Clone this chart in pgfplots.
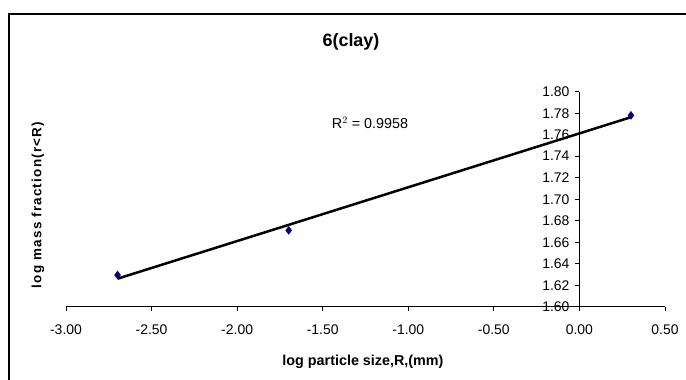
\documentclass[border=0pt]{standalone}
\usepackage{fontspec}
\setmainfont{Liberation Sans}
\newfontfamily\ylabfont[LetterSpace=9]{Liberation Sans}
\usepackage{pgfplots}
\usepackage{pgfplotstable}
\pgfplotsset{compat=1.18}
\definecolor{navy}{RGB}{0,0,128}
\pgfplotstableread{
x y
-2.699 1.6295
-1.699 1.671
0.301 1.778
}\datatable
\begin{document}
\begin{tikzpicture}
\useasboundingbox (0,0) rectangle (686bp,380bp);
\fill[white] (0,0) rectangle (686bp,380bp);
\draw[line width=1.5bp] (9bp,0) -- (9bp,366bp) -- (686bp,366bp);
\begin{axis}[
  at={(66bp,73.3bp)}, anchor=south west,
  scale only axis, width=599bp, height=215bp,
  xmin=-3, xmax=0.5, ymin=1.6, ymax=1.8,
  axis x line=bottom, axis y line=middle,
  axis line style={-, line width=0.8bp, black},
  hide obscured x ticks=false, hide obscured y ticks=false,
  xtick={-3,-2.5,-2,-1.5,-1,-0.5,0,0.5},
  ytick={1.6,1.62,1.64,1.66,1.68,1.7,1.72,1.74,1.76,1.78,1.8},
  tick align=outside, major tick length=4.5bp,
  tick style={line width=0.8bp, black},
  xticklabel pos=bottom, yticklabel pos=left,
  /pgf/number format/.cd, fixed, fixed zerofill, precision=2, assume math mode=true,
  /pgfplots/.cd,
  ticklabel style={font=\fontsize{14}{16}\selectfont},
  x tick label style={anchor=north, yshift=-10bp},
  y tick label style={anchor=east, xshift=-2bp},
  clip=false,
]
\addplot[black, line width=2.5bp] table[x=x, y={create col/linear regression={y=y}}] {\datatable};
\addplot[only marks, mark=diamond*, mark size=4bp, color=navy, mark options={fill=navy}] table[x=x, y=y] {\datatable};
\end{axis}
\node[anchor=base, font=\bfseries\fontsize{18}{20}\selectfont] at (351bp,333.3bp) {6(clay)};
\node[anchor=base, font=\bfseries\fontsize{14.4}{16}\selectfont] at (363bp,15bp) {log particle size,R,(mm)};
\node[rotate=90, font=\ylabfont\bfseries\fontsize{13.5}{15}\selectfont] at (38bp,175bp) {log mass fraction(r<R)};
\node[anchor=base, font=\fontsize{14.4}{16}\selectfont] at (370bp,251.7bp) {R$^{2}$ = 0.9958};
\end{tikzpicture}
\end{document}
